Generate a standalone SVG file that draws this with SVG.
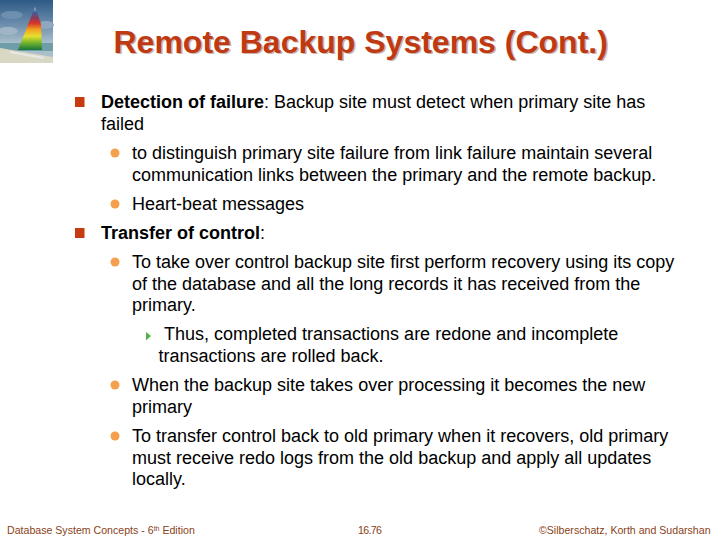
<svg xmlns="http://www.w3.org/2000/svg" width="720" height="540" viewBox="0 0 720 540">
<defs>
<linearGradient id="sky" x1="0" y1="0" x2="0" y2="1"><stop offset="0" stop-color="#2c5a86"/><stop offset="0.4" stop-color="#6f8fae"/><stop offset="0.68" stop-color="#a9bfca"/></linearGradient>
<linearGradient id="sail" x1="0" y1="0" x2="0" y2="1"><stop offset="0" stop-color="#c8d8e8"/><stop offset="0.12" stop-color="#3a5f9a"/><stop offset="0.25" stop-color="#8a3a5a"/><stop offset="0.38" stop-color="#d8342a"/><stop offset="0.52" stop-color="#f0a020"/><stop offset="0.68" stop-color="#e8e030"/><stop offset="0.82" stop-color="#7cb82c"/><stop offset="1" stop-color="#14753a"/></linearGradient>
</defs>
<style>
text{font-family:"Liberation Sans",Arial,sans-serif}
.b{font-size:18px;fill:#000}
.h{font-weight:bold}
.t{font-size:32px;font-weight:bold;fill:#bf3a12}
.s{font-size:32px;font-weight:bold;fill:#c9b5ae}
.f{font-size:10.6px;fill:#8a3f18}
.l1{fill:#c63c10}.l2{fill:#f4a04e}.l3{fill:#55b04a}
</style>
<rect width="720" height="540" fill="#fff"/>
<g id="picture">
<rect width="53" height="63" fill="url(#sky)"/>
<ellipse cx="12" cy="15" rx="11" ry="4" fill="#6f8fae"/>
<ellipse cx="46" cy="25" rx="8" ry="4" fill="#8fa8c0"/>
<ellipse cx="8" cy="31" rx="10" ry="4" fill="#9fb5c6"/>
<rect y="43" width="53" height="8" fill="#6f9ea8"/>
<path d="M0 48L53 57V63H0Z" fill="#d9d8c4"/>
<path d="M35 7L41 24L42 50H18Z" fill="url(#sail)"/>
<path d="M10 52L44 58" stroke="#e8e8e8" stroke-width="2"/>
</g>
<g id="title">
<text class="s" x="115" y="54">Remote Backup Systems (Cont.)</text>
<text class="t" x="113.500" y="53">Remote Backup Systems (Cont.)</text>
</g>
<g id="bullets">
<rect class="l1" x="75" y="97" width="9.500" height="10"/>
<circle class="l2" cx="115" cy="153" r="4.500"/>
<circle class="l2" cx="115" cy="204" r="4.500"/>
<rect class="l1" x="75" y="228" width="9.500" height="10"/>
<circle class="l2" cx="115" cy="262" r="4.500"/>
<path class="l3" d="M146 332L151 336L146 340.500Z"/>
<circle class="l2" cx="115" cy="385" r="4.500"/>
<circle class="l2" cx="115" cy="436" r="4.500"/>
</g>
<g id="body">
<text class="b" x="101" y="108"><tspan class="h">Detection of failure</tspan>: Backup site must detect when primary site has</text>
<text class="b" x="101" y="130">failed</text>
<text class="b" x="132" y="159">to distinguish primary site failure from link failure maintain several</text>
<text class="b" x="132" y="181">communication links between the primary and the remote backup.</text>
<text class="b" x="132" y="210">Heart-beat messages</text>
<text class="b" x="101" y="239"><tspan class="h">Transfer of control</tspan>:</text>
<text class="b" x="132" y="268">To take over control backup site first perform recovery using its copy</text>
<text class="b" x="132" y="290">of the database and all the long records it has received from the</text>
<text class="b" x="132" y="311">primary.</text>
<text class="b" x="164" y="340">Thus, completed transactions are redone and incomplete</text>
<text class="b" x="158.500" y="362">transactions are rolled back.</text>
<text class="b" x="132" y="391">When the backup site takes over processing it becomes the new</text>
<text class="b" x="132" y="413">primary</text>
<text class="b" x="132" y="442">To transfer control back to old primary when it recovers, old primary</text>
<text class="b" x="132" y="464">must receive redo logs from the old backup and apply all updates</text>
<text class="b" x="132" y="485">locally.</text>
</g>
<g id="footer">
<text class="f" x="7" y="534">Database System Concepts - 6<tspan font-size="7" dy="-3">th</tspan><tspan dy="3"> Edition</tspan></text>
<text class="f" x="358" y="534" textLength="24">16.76</text>
<text class="f" x="539" y="534">©Silberschatz, Korth and Sudarshan</text>
</g>
</svg>
